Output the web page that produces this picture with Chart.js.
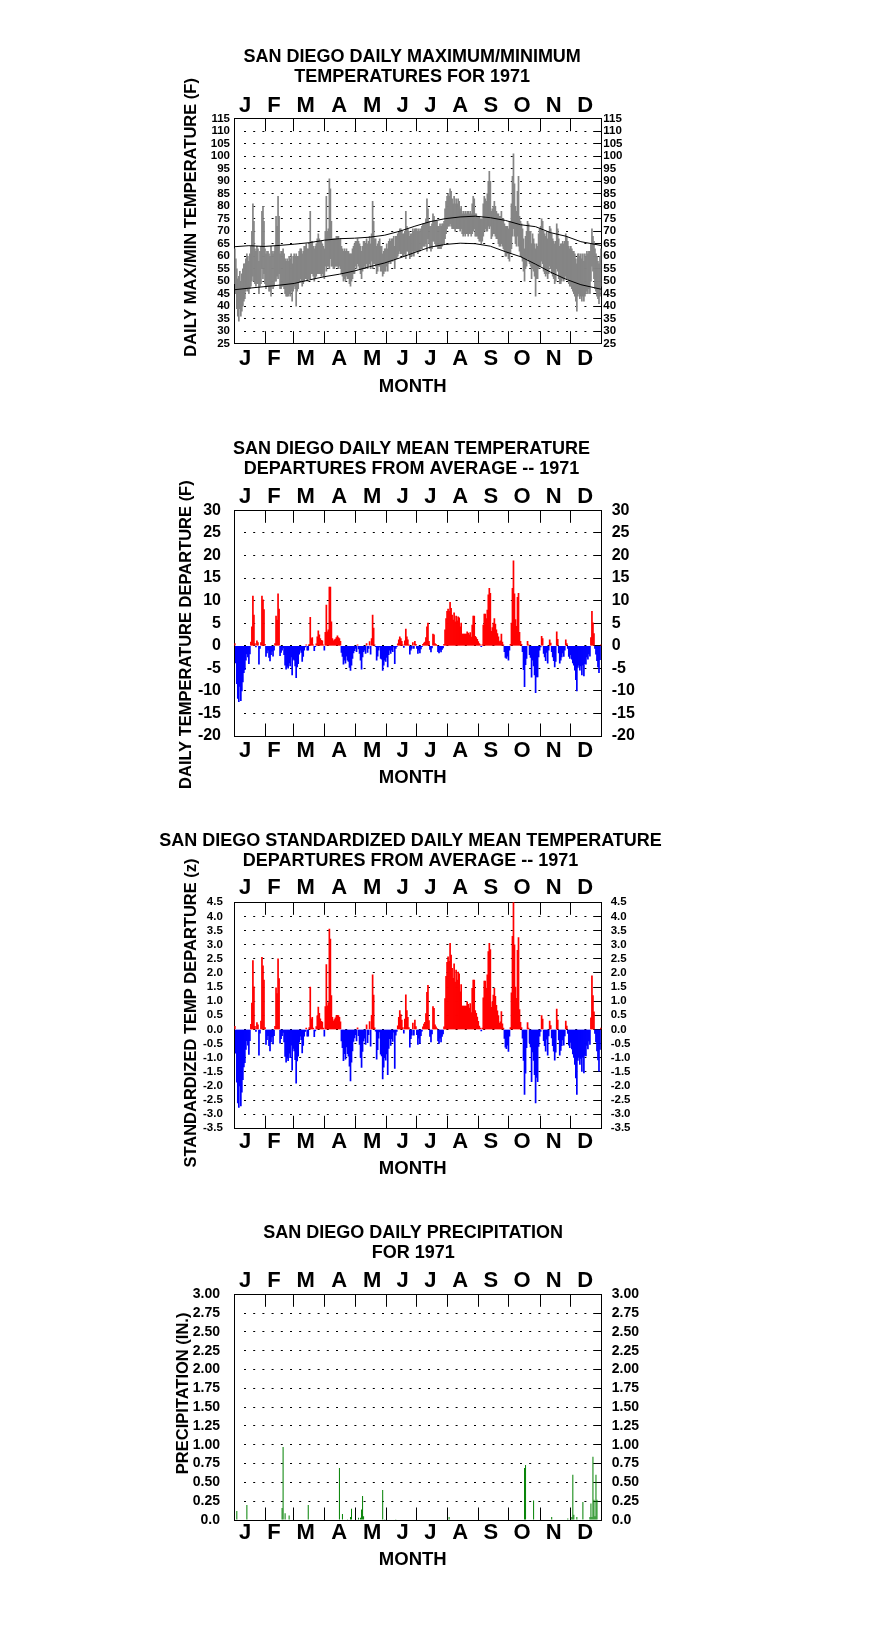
<!DOCTYPE html>
<html><head><meta charset="utf-8">
<script src="https://cdn.jsdelivr.net/npm/chart.js@4/dist/chart.umd.min.js"></script>
<style>
html,body{margin:0;padding:0;background:#fff;}
body{width:876px;height:1634px;position:relative;overflow:hidden;}
canvas{position:absolute;left:0;}
</style></head><body>
<canvas id="c1"></canvas>
<canvas id="c2"></canvas>
<canvas id="c3"></canvas>
<canvas id="c4"></canvas>
<script>
// ---------- categories / tick labels ----------
const monthLetters = ['J','F','M','A','M','J','J','A','S','O','N','D'];
const monthLabelDays = [11.2, 40, 71.5, 104.8, 137.6, 167.8, 195.3, 225, 255.5, 286.5, 318, 349.3];
const monthBoundaryDays = [31.5, 59.5, 90.5, 120.5, 151.5, 181.5, 212.5, 243.5, 273.5, 304.5, 334.5];
const tempTicks = [25,30,35,40,45,50,55,60,65,70,75,80,85,90,95,100,105,110,115];
const depTicks = [-20,-15,-10,-5,0,5,10,15,20,25,30];
const zTicks = [-3.5,-3,-2.5,-2,-1.5,-1,-0.5,0,0.5,1,1.5,2,2.5,3,3.5,4,4.5];
const precipTicks = [0,0.25,0.5,0.75,1,1.25,1.5,1.75,2,2.25,2.5,2.75,3];

// ---------- panel 1: daily max / min (F), one value per day ----------
const dailyMaxF = [
 63,59,55,51,52,54,50,53,55,57,57,59,61,60,58,61,64,70,81,74,63,62,64,63,58,62,64,78,80,74,63,
 61,62,62,61,60,64,62,61,62,64,76,72,84,76,61,62,62,63,61,59,58,59,58,60,59,61,57,60,
 61,60,61,60,60,62,63,63,61,62,64,64,65,63,63,65,78,66,66,64,63,64,65,67,69,67,66,66,65,64,63,
 70,84,70,71,91,87,74,67,67,67,67,68,68,68,67,67,64,63,62,63,62,63,62,62,61,61,61,63,64,65,
 66,66,67,66,65,64,62,64,66,66,65,67,65,66,68,65,69,82,74,67,67,64,65,66,67,64,64,61,62,63,63,
 65,63,66,67,66,67,67,68,64,68,68,69,70,71,71,70,69,69,70,78,72,71,70,68,69,69,71,70,71,71,
 71,70,71,70,71,72,73,73,73,75,83,79,74,72,72,73,77,76,74,74,74,72,72,73,72,73,73,74,79,82,84,
 85,84,87,86,83,81,84,81,83,81,83,82,79,80,77,78,77,78,77,78,78,77,78,77,81,84,83,77,77,76,76,
 76,75,75,75,81,84,83,82,85,90,94,90,78,79,80,82,80,78,77,77,76,76,78,75,75,73,72,72,72,71,
 74,74,81,92,101,89,80,78,86,92,76,74,73,71,67,63,68,70,74,73,70,70,65,69,67,65,63,65,64,69,71,
 72,75,74,70,69,68,70,67,70,72,71,69,67,66,65,66,73,71,67,64,65,65,66,65,66,69,68,66,64,63,
 64,63,62,62,61,59,57,61,61,60,61,59,61,58,61,60,62,61,62,62,65,71,68,66,63,61,60,58,57,60,63
];
const dailyMinF = [
 49,45,39,36,34,39,36,38,40,42,43,46,47,46,45,47,48,50,52,50,49,48,49,49,45,48,49,55,51,53,49,
 47,48,48,46,46,44,48,47,48,50,50,52,51,53,47,47,48,48,47,45,44,44,44,45,44,46,42,46,
 48,47,40,46,47,50,51,50,48,49,50,51,51,50,51,51,51,53,53,52,50,51,52,53,53,53,53,52,53,52,51,
 56,54,56,56,55,59,56,56,55,55,56,56,56,55,56,55,53,52,50,51,50,52,51,51,49,48,50,51,53,53,
 56,55,57,56,55,53,51,54,55,56,55,57,55,56,57,55,58,55,57,57,56,53,54,56,56,54,54,52,53,54,54,
 56,54,57,58,57,58,58,59,55,59,59,60,61,62,61,61,60,60,61,59,62,62,61,59,60,60,62,60,62,62,
 62,61,62,62,63,63,64,64,64,65,62,67,65,63,62,63,66,66,65,64,64,63,63,63,63,64,65,65,67,69,71,
 72,72,73,72,71,71,71,70,71,71,71,71,70,71,69,68,69,68,69,69,68,69,69,68,69,70,71,68,68,68,67,
 66,66,65,66,68,70,71,70,70,72,71,72,67,68,69,69,68,67,67,65,64,64,65,64,63,62,60,60,61,59,
 58,61,63,68,71,68,65,64,68,64,62,60,60,58,54,50,55,56,59,58,57,56,51,55,54,52,44,51,51,55,56,
 56,58,57,54,53,52,53,51,53,56,55,53,52,51,49,50,55,54,51,49,49,50,51,50,51,52,51,51,49,48,
 48,47,46,45,44,42,38,44,45,43,44,42,44,42,44,45,46,45,47,45,50,56,54,51,47,46,44,43,41,44,48
];
// normal max / min curves, read at these days
const normalDays = [1,15,30,45,60,75,90,105,120,135,150,165,180,195,210,225,240,255,270,285,300,315,330,345,365];
const normalMaxF = [63.8,64.2,63.9,64.3,64.8,65.4,66.4,67.0,67.2,67.6,68.4,70.0,72.0,73.8,75.0,75.7,76.0,75.4,74.3,72.6,71.8,69.4,68.0,65.8,64.3];
const normalMinF = [46.6,47.2,47.8,48.4,49.1,50.5,51.8,52.8,54.1,55.8,57.3,59.3,61.5,63.6,64.7,65.2,65.0,64.0,61.8,59.8,56.8,53.6,50.8,48.6,46.8];

// ---------- panel 2: daily mean temperature departure (F) ----------
const meanDepF = [
 0.5,-3.8,-8.4,-11.7,-12.4,-9.0,-12.2,-10.0,-8.0,-6.0,-5.3,-3.2,-1.8,-2.5,-4.0,-1.8,0.8,4.2,11.0,6.8,0.5,-0.3,1.1,0.7,-4.1,-0.6,0.7,11.0,10.2,8.0,0.3,
 -2.4,-1.6,-1.0,-2.6,-3.4,-2.0,-1.2,-2.3,-1.0,0.5,6.6,5.7,11.5,8.1,-2.2,-1.5,-1.0,-0.5,-2.0,-4.3,-5.2,-4.6,-5.0,-3.8,-4.5,-2.5,-6.5,-3.0,
 -3.2,-4.5,-7.1,-4.7,-4.0,-1.9,-1.0,-1.5,-3.5,-2.4,-1.0,-0.3,0.2,-1.0,-1.0,0.3,6.3,1.6,1.8,0.2,-1.1,-0.2,0.4,2.0,3.3,2.4,1.6,1.2,1.1,0.2,-1.0,
 3.0,9.0,3.1,3.5,13.0,13.0,5.3,1.6,1.1,1.3,1.5,1.8,2.2,1.8,1.6,1.0,-1.5,-2.4,-4.1,-3.2,-3.9,-2.3,-3.2,-3.5,-4.8,-5.5,-4.3,-2.8,-1.6,-1.1,
 -0.6,-1.3,0.2,-0.7,-1.7,-3.2,-5.2,-2.5,-1.3,-1.0,-1.7,0.5,-1.5,-0.6,0.9,-1.9,1.6,6.8,3.9,0.2,-0.2,-3.2,-2.3,-1.0,-0.3,-2.8,-3.0,-5.5,-4.3,-3.2,-3.5,
 -2.6,-4.7,-2.0,-1.0,-1.7,-1.0,-1.3,-0.3,-4.0,-0.6,-0.2,0.4,1.3,2.0,1.6,1.0,0.2,-0.4,1.1,3.7,2.0,1.3,0.2,-1.9,-1.0,-0.6,0.7,-0.6,1.0,0.3,
 -0.6,-1.7,-1.0,-1.6,-0.7,-0.2,0.3,0.6,0.8,1.8,4.2,5.0,1.0,-0.8,-1.4,-0.5,2.6,2.4,0.5,0.3,0.1,-1.3,-1.6,-1.0,-1.4,-0.8,-0.5,0.3,3.5,6.0,7.6,
 8.1,7.6,9.6,8.3,6.8,5.7,7.3,5.3,6.6,5.5,6.4,6.2,4.2,5.0,2.6,2.6,2.6,2.6,2.6,3.1,2.8,2.4,2.9,1.9,4.6,6.6,6.6,2.1,1.8,1.4,0.9,
 0.5,0.2,-0.2,0.2,4.6,7.0,7.0,6.0,7.9,11.3,12.7,11.6,3.2,4.0,5.0,6.0,4.8,3.5,2.7,2.0,0.9,1.1,2.6,0.8,0.2,-1.3,-2.6,-2.8,-2.3,-3.2,
 -1.0,0.3,5.0,12.7,18.8,11.5,5.8,4.3,10.7,11.6,3.0,1.0,0.3,-1.3,-5.3,-9.1,-4.2,-2.8,1.0,0.2,-2.0,-2.6,-7.0,-3.2,-4.5,-6.5,-10.4,-6.9,-6.9,-2.5,-1.0,
 -0.3,2.1,1.6,-1.7,-2.5,-3.3,-1.5,-3.9,-1.0,1.3,0.6,-1.3,-2.5,-3.3,-4.7,-3.5,3.1,1.4,-1.6,-3.9,-3.2,-2.5,-1.6,-2.4,-1.0,1.3,0.5,-0.6,-2.4,-2.8,
 -2.0,-3.0,-3.8,-4.3,-5.4,-7.5,-10.0,-4.8,-4.3,-5.4,-4.5,-6.5,-4.3,-6.7,-4.0,-4.1,-2.5,-3.0,-1.8,-2.3,1.8,7.6,5.1,2.7,-0.6,-1.9,-3.3,-4.7,-6.0,-3.1,0.2
];

// ---------- panel 3: standardized departure (z) ----------
const zDep = [
 0.11,-0.84,-1.87,-2.6,-2.76,-2.0,-2.71,-2.22,-1.78,-1.33,-1.18,-0.71,-0.4,-0.56,-0.89,-0.4,0.18,0.93,2.44,1.51,0.11,-0.07,0.24,0.16,-0.91,-0.13,0.3,2.55,2.25,1.75,0.07,
 -0.53,-0.36,-0.22,-0.58,-0.76,-0.44,-0.27,-0.51,-0.22,0.11,1.47,1.27,2.5,1.8,-0.49,-0.33,-0.22,-0.11,-0.44,-0.96,-1.16,-1.02,-1.11,-0.84,-1.0,-0.56,-1.44,-0.67,
 -0.76,-1.07,-1.9,-1.12,-0.95,-0.45,-0.24,-0.36,-0.83,-0.57,-0.24,-0.07,0.05,-0.24,-0.24,0.07,1.5,0.38,0.43,0.05,-0.26,-0.05,0.1,0.48,0.79,0.57,0.38,0.29,0.26,0.05,-0.24,
 0.81,2.3,0.84,0.95,3.55,3.2,1.2,0.43,0.3,0.35,0.41,0.49,0.5,0.49,0.43,0.27,-0.41,-0.65,-1.11,-0.86,-1.05,-0.62,-0.86,-0.95,-1.3,-1.82,-1.16,-0.76,-0.43,-0.3,
 -0.19,-0.41,0.06,-0.22,-0.53,-1.0,-1.35,-0.78,-0.41,-0.31,-0.53,0.16,-0.47,-0.19,0.28,-0.59,0.5,1.93,1.22,0.06,-0.06,-1.05,-0.72,-0.31,-0.09,-0.88,-0.94,-1.75,-1.34,-1.0,-1.09,
 -0.87,-1.6,-0.67,-0.33,-0.57,-0.33,-0.43,-0.1,-1.38,-0.2,-0.07,0.13,0.43,0.67,0.53,0.33,0.07,-0.13,0.37,1.23,0.67,0.43,0.07,-0.63,-0.33,-0.2,0.23,-0.2,0.33,0.1,
 -0.19,-0.53,-0.31,-0.5,-0.22,-0.06,0.09,0.19,0.25,0.56,1.31,1.56,0.31,-0.25,-0.44,-0.16,0.81,0.75,0.16,0.09,0.03,-0.41,-0.5,-0.31,-0.44,-0.25,-0.16,0.09,1.09,1.88,2.38,
 2.57,2.41,3.05,2.63,2.16,1.81,2.32,1.68,2.1,1.75,2.03,1.97,1.33,1.59,0.83,0.83,0.83,0.83,0.83,0.98,0.89,0.76,0.92,0.6,1.46,1.75,1.75,0.67,0.57,0.44,0.29,
 0.12,0.05,-0.05,0.05,1.12,1.71,1.71,1.46,1.93,2.76,3.05,2.83,0.78,0.98,1.22,1.46,1.17,0.85,0.66,0.49,0.22,0.27,0.63,0.2,0.05,-0.32,-0.63,-0.68,-0.56,-0.78,
 -0.24,0.07,1.3,3.3,4.5,3.0,1.5,1.1,2.8,3.25,0.7,0.25,0.07,-0.31,-1.1,-2.3,-1.55,-0.65,0.24,0.05,-0.48,-0.62,-1.85,-0.8,-1.1,-1.6,-2.6,-1.7,-1.85,-0.6,-0.24,
 -0.07,0.49,0.37,-0.4,-0.58,-0.77,-0.35,-0.91,-0.23,0.3,0.14,-0.3,-0.58,-0.77,-1.09,-0.81,0.72,0.33,-0.37,-0.91,-0.74,-0.58,-0.37,-0.56,-0.23,0.3,0.12,-0.14,-0.56,-0.65,
 -0.46,-0.69,-0.87,-0.99,-1.24,-1.72,-2.3,-1.1,-0.99,-1.24,-1.03,-1.49,-0.99,-1.54,-0.92,-0.94,-0.57,-0.69,-0.41,-0.53,0.41,1.9,1.2,0.62,-0.14,-0.44,-0.76,-1.08,-1.48,-0.71,0.05
];

// ---------- panel 4: daily precipitation (in.), days with rain ----------
const precipDays = [3,13,48,49,51,55,74,105,108,113,116,117,124,126,127,128,129,148,150,161,214,289,290,298,316,332,336,337,338,341,347,354,355,356,357,358,359,360,361];
const precipIn   = [0.12,0.20,0.16,0.97,0.09,0.06,0.20,0.69,0.08,0.01,0.04,0.15,0.03,0.03,0.14,0.32,0.05,0.40,0.01,0.01,0.04,0.69,0.73,0.26,0.04,0.02,0.04,0.60,0.07,0.04,0.24,0.04,0.22,0.04,0.84,0.27,0.05,0.60,0.27];

// ---------- drawing ----------
const FONT = "'Liberation Sans', Arial, Helvetica, sans-serif";
Chart.defaults.font.family = FONT;
Chart.defaults.color = '#000';

const PLOT_L = 234.3, PLOT_R = 601.5;

function dotDash(W) {
  const a = [0];
  let pos = 0;
  for (let x = 9; x < W - 14; x += 9.2) { a.push(x - pos, 2); pos = x + 2; }
  a.push(W - 9 - pos, 9, 60);
  return a;
}

function makePanel(id, L) {
  const canvasTop = Math.floor(L.title1Mid - 16);
  const titlePadTop = L.title1Mid - canvasTop - 10;
  const chartTop = L.plotTop - canvasTop;
  const chartBottom = L.plotBottom - canvasTop;
  const rawH = chartBottom + 62;
  const H = Math.ceil(rawH);
  const cv = document.getElementById(id);
  cv.width = 876; cv.height = H; cv.style.top = canvasTop + 'px';
  const pl = 100;
  const pr = pl + 876 - 2 * L.titleCenter;
  const wyl = PLOT_L - pl;
  const wyr = 876 - pr - PLOT_R;
  const plotH = L.plotBottom - L.plotTop;
  const W = PLOT_R - PLOT_L;
  const letterFont = {size: 22, weight: 'bold', lineHeight: 1.2};
  const lh2 = 22 * 1.2 / 2;
  const tickFont = {size: L.tickSize, weight: 'bold'};
  const letterAxis = (pos, pad) => ({
    type: 'linear', position: pos, min: 0.5, max: 365.5, offset: false,
    afterBuildTicks: ax => { ax.ticks = monthLabelDays.map(v => ({value: v})); },
    ticks: {autoSkip: false, maxRotation: 0, minRotation: 0, padding: pad, font: letterFont, color: '#000',
            callback: (v, i) => monthLetters[i]},
    grid: {display: false, drawTicks: false, offset: false},
    border: {display: true, color: '#000', width: 1}
  });
  const xBottom = letterAxis('bottom', L.botGap - lh2);
  xBottom.afterFit = ax => { ax.height = 62; };
  xBottom.title = {display: true, text: 'MONTH  ', color: '#000', font: {size: 18.5, weight: 'bold', lineHeight: 1.2},
                   padding: {top: 0, bottom: 62 - 11.1 - L.monthGap}};
  const xTop = letterAxis('top', L.topGap - lh2);
  xTop.afterFit = ax => { ax.height = 26; };

  return new Chart(cv, {
    type: 'bar',
    data: {datasets: L.datasets},
    options: {
      responsive: false, maintainAspectRatio: false, animation: false, events: [],
      layout: {padding: {left: pl, right: pr, top: 0, bottom: H - rawH}},
      plugins: {
        legend: {display: false}, tooltip: {enabled: false},
        title: {display: true, text: L.title, color: '#000',
                font: {size: 18, weight: 'bold', lineHeight: 20 / 18},
                padding: {top: titlePadTop, bottom: chartTop - titlePadTop - 40 - 26}}
      },
      scales: {
        x: xBottom,
        xm: {
          type: 'linear', position: 'bottom', min: 0.5, max: 365.5, offset: false, weight: 5,
          afterBuildTicks: ax => { ax.ticks = monthBoundaryDays.map(v => ({value: v})); },
          afterFit: ax => { ax.height = 0; },
          ticks: {display: false, autoSkip: false},
          grid: {display: true, drawOnChartArea: true, drawTicks: false, color: '#000', lineWidth: 1, offset: false},
          border: {display: false, dash: [12.5, plotH - 25]}
        },
        xt: xTop,
        y: {
          type: 'linear', position: 'left', min: L.min, max: L.max,
          afterBuildTicks: ax => { ax.ticks = L.ticks.map(v => ({value: v})); },
          afterFit: ax => { ax.width = wyl; },
          ticks: {autoSkip: false, padding: L.padL, font: tickFont, color: '#000', callback: L.fmt},
          grid: {display: true, drawTicks: false, color: '#000', lineWidth: 1},
          border: {display: true, color: '#000', width: 1, dash: dotDash(W)},
          title: {display: true, text: L.yTitle, color: '#000', font: {size: 16.5, weight: 'bold', lineHeight: 1.2},
                  padding: {top: L.yTitleX - pl - 9.9, bottom: 0}}
        },
        yr: {
          type: 'linear', position: 'right', min: L.min, max: L.max,
          afterBuildTicks: ax => { ax.ticks = L.ticks.map(v => ({value: v})); },
          afterFit: ax => { ax.width = wyr; },
          ticks: {autoSkip: false, padding: L.padR, font: tickFont, color: '#000', callback: L.fmt},
          grid: {display: false, drawTicks: false},
          border: {display: true, color: '#000', width: 1}
        }
      }
    }
  });
}

const days = dailyMaxF.map((v, i) => i + 1);
const RED = '#ff0000', BLUE = '#0000ff';

// Panel 1
makePanel('c1', {
  title: ['SAN DIEGO DAILY MAXIMUM/MINIMUM', 'TEMPERATURES FOR 1971'],
  title1Mid: 56.7, titleCenter: 412.2, plotTop: 118.7, plotBottom: 343.7,
  topGap: 13.2, botGap: 15.3, monthGap: 42.8,
  min: 25, max: 115, ticks: tempTicks, fmt: v => String(v), tickSize: 11.5, padL: 4.3, padR: 1.8,
  yTitle: '      DAILY MAX/MIN TEMPERATURE (F)', yTitleX: 191.5,
  datasets: [
    {type: 'line', data: normalDays.map((d, i) => ({x: d, y: normalMaxF[i]})), borderColor: '#000', borderWidth: 1, pointRadius: 0, tension: 0, order: 0},
    {type: 'line', data: normalDays.map((d, i) => ({x: d, y: normalMinF[i]})), borderColor: '#000', borderWidth: 1, pointRadius: 0, tension: 0, order: 0},
    {type: 'bar', data: days.map((d, i) => ({x: d, y: [dailyMinF[i], dailyMaxF[i]]})), backgroundColor: '#858585',
     barThickness: 1.1, inflateAmount: 0.3, borderWidth: 0, order: 1}
  ]
});

// Panel 2
makePanel('c2', {
  title: ['SAN DIEGO DAILY MEAN TEMPERATURE', 'DEPARTURES FROM AVERAGE -- 1971'],
  title1Mid: 449, titleCenter: 411.5, plotTop: 510.3, plotBottom: 736,
  topGap: 13.8, botGap: 15, monthGap: 42.3,
  min: -20, max: 30, ticks: depTicks, fmt: v => String(v), tickSize: 16, padL: 13.3, padR: 10.2,
  yTitle: 'DAILY TEMPERATURE DEPARTURE (F)     ', yTitleX: 186.7,
  datasets: [
    {type: 'bar', data: meanDepF.map((v, i) => ({x: i + 1, y: v})), backgroundColor: meanDepF.map(v => v < 0 ? BLUE : RED),
     barThickness: 1.1, inflateAmount: 0.3, borderWidth: 0}
  ]
});

// Panel 3
makePanel('c3', {
  title: ['SAN DIEGO STANDARDIZED DAILY MEAN TEMPERATURE', 'DEPARTURES FROM AVERAGE -- 1971'],
  title1Mid: 841, titleCenter: 410.5, plotTop: 902.3, plotBottom: 1128.3,
  topGap: 14.3, botGap: 13.7, monthGap: 40.6,
  min: -3.5, max: 4.5, ticks: zTicks, fmt: v => v.toFixed(1), tickSize: 11.5, padL: 11.5, padR: 9.2,
  yTitle: ' STANDARDIZED TEMP DEPARTURE (z)', yTitleX: 191.7,
  datasets: [
    {type: 'bar', data: zDep.map((v, i) => ({x: i + 1, y: v})), backgroundColor: zDep.map(v => v < 0 ? BLUE : RED),
     barThickness: 1.1, inflateAmount: 0.3, borderWidth: 0}
  ]
});

// Panel 4
makePanel('c4', {
  title: ['SAN DIEGO DAILY PRECIPITATION', 'FOR 1971'],
  title1Mid: 1233, titleCenter: 413.2, plotTop: 1294.3, plotBottom: 1520,
  topGap: 13.8, botGap: 13.2, monthGap: 40,
  min: 0, max: 3, ticks: precipTicks, fmt: v => v === 0 ? '0.0' : v.toFixed(2), tickSize: 14, padL: 14.3, padR: 10.2,
  yTitle: '      PRECIPITATION (IN.)', yTitleX: 183.3,
  datasets: [
    {type: 'bar', data: precipDays.map((d, i) => ({x: d, y: precipIn[i]})), backgroundColor: '#008000',
     barThickness: 1, inflateAmount: 0, borderWidth: 0}
  ]
});
</script>
</body></html>
